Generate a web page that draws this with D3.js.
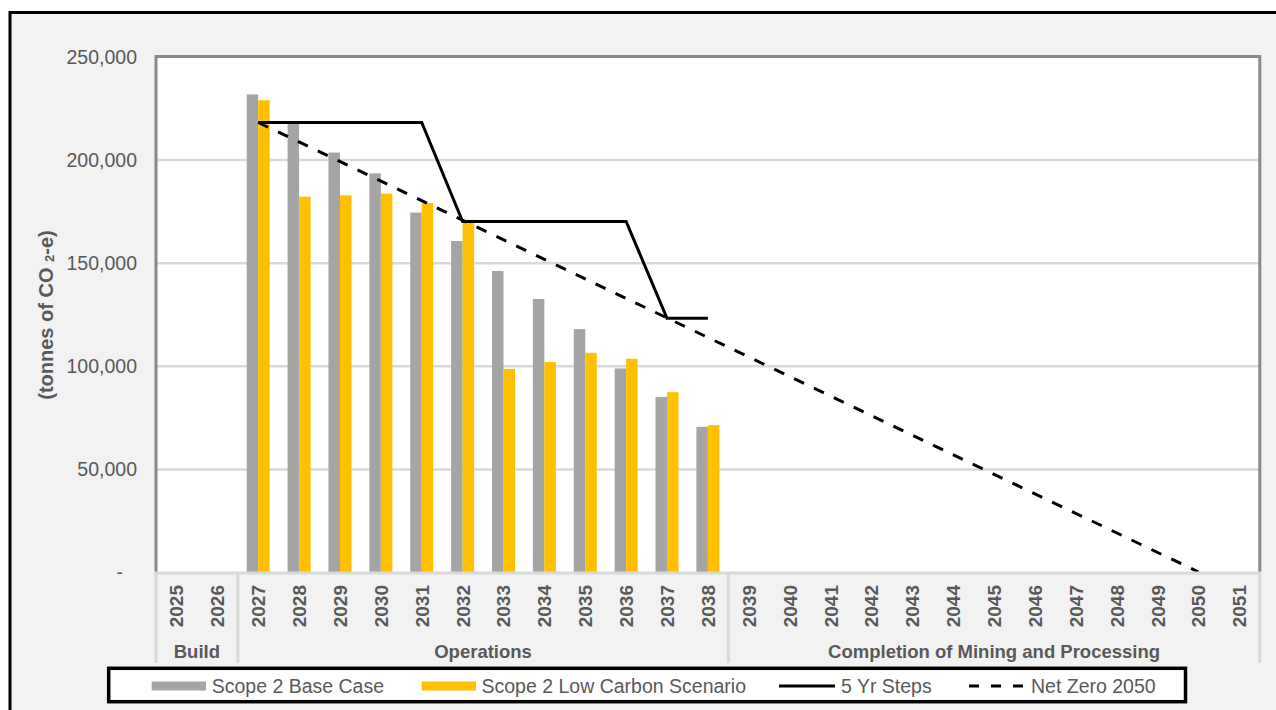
<!DOCTYPE html>
<html>
<head>
<meta charset="utf-8">
<script src="https://cdn.jsdelivr.net/npm/d3@7"></script>
<style>
  html, body { margin: 0; padding: 0; background: #ffffff; }
  svg { display: block; font-family: "Liberation Sans", Arial, sans-serif; }
</style>
</head>
<body>
<svg id="chart" width="1276" height="710"></svg>
<script>
// ---------- data ----------
const years = ["2025","2026","2027","2028","2029","2030","2031","2032","2033","2034","2035","2036","2037","2038",
               "2039","2040","2041","2042","2043","2044","2045","2046","2047","2048","2049","2050","2051"];
const baseCase  = [null,null,231600,217500,203400,193300,174300,160500,146000,132400,117800,98700,84900,70400,
                   null,null,null,null,null,null,null,null,null,null,null,null,null];
const lowCarbon = [null,null,228800,182000,182700,183500,179000,170800,98500,101800,106300,103400,87200,71200,
                   null,null,null,null,null,null,null,null,null,null,null,null,null];
const stepYears  = ["2027","2028","2029","2030","2031","2032","2033","2034","2035","2036","2037","2038"];
const stepValues = [218000,218000,218000,218000,218000,170000,170000,170000,170000,170000,123000,123000];
const netZeroYears  = ["2027","2050"];
const netZeroValues = [218000,0];
const yTicks = [0,50000,100000,150000,200000,250000];
const phases = [
  {name:"Build", from:"2025", to:"2026"},
  {name:"Operations", from:"2027", to:"2038"},
  {name:"Completion of Mining and Processing", from:"2039", to:"2051"}
];
const seriesNames = ["Scope 2 Base Case","Scope 2 Low Carbon Scenario","5 Yr Steps","Net Zero 2050"];
const colors = {base:"#a5a5a5", low:"#ffc000", line:"#000000"};

// ---------- layout ----------
const svg = d3.select("#chart");
const L = 156, R = 1259.8, T = 56.5, B = 572;
const textCol = "#595959";

// outer frame
svg.append("rect").attr("x",10).attr("y",12.5).attr("width",1300).attr("height",740)
   .attr("fill","#f2f2f2").attr("stroke","#000").attr("stroke-width",3);

const x = d3.scaleBand().domain(years).range([L, R]).paddingInner(0).paddingOuter(0);
const y = d3.scaleLinear().domain([0,250000]).range([B, T]);
const barW = 11.5;

// plot area
svg.append("rect").attr("x",L).attr("y",T).attr("width",R-L).attr("height",B-T).attr("fill","#fff");

// gridlines
const grid = svg.append("g").attr("transform",`translate(${L},0)`)
  .call(d3.axisLeft(y).tickValues(yTicks.filter(d=>d>0 && d<250000)).tickSize(-(R-L)).tickFormat(""));
grid.select(".domain").remove();
grid.selectAll("line").attr("stroke","#d9d9d9").attr("stroke-width",2.5);

// y axis labels
const yAx = svg.append("g").attr("transform",`translate(137,0)`)
  .call(d3.axisLeft(y).tickValues(yTicks).tickSize(0).tickPadding(0)
        .tickFormat(d => d===0 ? "-" : d3.format(",")(d)));
yAx.select(".domain").remove();
yAx.selectAll("text").attr("font-size",19.5).attr("fill",textCol)
   .attr("font-family","'Liberation Sans', Arial, sans-serif")
   .attr("x", d => d===0 ? -14 : 0).attr("dy","0.35em");

// bars
const bars = svg.append("g");
years.forEach((yr,i) => {
  const cx = x(yr) + x.bandwidth()/2;
  if (baseCase[i] != null) {
    bars.append("rect").attr("x",cx-barW).attr("width",barW)
      .attr("y",y(baseCase[i])).attr("height",B - y(baseCase[i])).attr("fill",colors.base);
  }
  if (lowCarbon[i] != null) {
    bars.append("rect").attr("x",cx).attr("width",barW)
      .attr("y",y(lowCarbon[i])).attr("height",B - y(lowCarbon[i])).attr("fill",colors.low);
  }
});

// lines
const lineGen = d3.line().x(d => x(d[0]) + x.bandwidth()/2).y(d => y(d[1]));
svg.append("path").datum(netZeroYears.map((d,i)=>[d,netZeroValues[i]]))
  .attr("d",lineGen).attr("fill","none").attr("stroke",colors.line).attr("stroke-width",3)
  .attr("stroke-dasharray","11,11");
svg.append("path").datum(stepYears.map((d,i)=>[d,stepValues[i]]))
  .attr("d",lineGen).attr("fill","none").attr("stroke",colors.line).attr("stroke-width",3);

// plot border (left, top, right)
svg.append("path").attr("d",`M${L},${B} V${T} H${R} V${B}`)
  .attr("fill","none").attr("stroke","#898989").attr("stroke-width",3);

// category axis line and phase separators
svg.append("line").attr("x1",L-1.5).attr("x2",R+1.5).attr("y1",B+1).attr("y2",B+1)
  .attr("stroke","#d9d9d9").attr("stroke-width",3);
const sepX = [x("2025"), x("2027"), x("2039"), R];
svg.append("g").selectAll("line").data(sepX).join("line")
  .attr("x1",d=>d).attr("x2",d=>d).attr("y1",B).attr("y2",663)
  .attr("stroke","#d9d9d9").attr("stroke-width",3);

// year labels
const xAx = svg.append("g").attr("transform",`translate(0,${B})`)
  .call(d3.axisBottom(x).tickSize(0).tickPadding(0));
xAx.select(".domain").remove();
xAx.selectAll("text").attr("font-size",19).attr("font-weight","bold").attr("fill",textCol)
  .attr("font-family","'Liberation Sans', Arial, sans-serif")
  .attr("text-anchor","end").attr("x",0).attr("y",0).attr("dy",0)
  .attr("transform","translate(7,13) rotate(-90)");

// phase labels
const phaseCenter = p => {
  if (p.name.startsWith("Completion")) return (x(p.from) + R)/2;
  return (x(p.from) + x(p.to) + x.bandwidth())/2;
};
svg.append("g").selectAll("text").data(phases).join("text")
  .attr("x",phaseCenter).attr("y",657.5).attr("text-anchor","middle")
  .attr("font-size",18.5).attr("font-weight","bold").attr("fill",textCol).text(d=>d.name);

// y title
const yt = svg.append("text").attr("transform","translate(53,315) rotate(-90)")
  .attr("text-anchor","middle").attr("font-size",20).attr("font-weight","bold").attr("fill",textCol);
yt.append("tspan").text("(tonnes of CO ");
yt.append("tspan").attr("font-size",13).attr("dy",1).text("2");
yt.append("tspan").attr("dy",-1).text("-e)");

// legend
svg.append("rect").attr("x",108.7).attr("y",668.3).attr("width",1185.5-108.7).attr("height",701.7-668.3)
  .attr("fill","#fff").attr("stroke","#000").attr("stroke-width",3.5);
const ly = 686;
const leg = svg.append("g");
leg.append("rect").attr("x",151.7).attr("y",ly-4.5).attr("width",54.3).attr("height",9).attr("fill",colors.base);
leg.append("rect").attr("x",421.7).attr("y",ly-4.5).attr("width",54.3).attr("height",9).attr("fill",colors.low);
leg.append("line").attr("x1",779).attr("x2",835).attr("y1",ly).attr("y2",ly)
  .attr("stroke","#000").attr("stroke-width",3);
leg.append("line").attr("x1",969).attr("x2",1025).attr("y1",ly).attr("y2",ly)
  .attr("stroke","#000").attr("stroke-width",3).attr("stroke-dasharray","10,12");
const legX = [211.7, 481.5, 841, 1031];
leg.selectAll("text").data(seriesNames).join("text")
  .attr("x",(d,i)=>legX[i]).attr("y",ly).attr("dy","0.35em")
  .attr("font-size",19.5).attr("fill",textCol).text(d=>d);
</script>
</body>
</html>
